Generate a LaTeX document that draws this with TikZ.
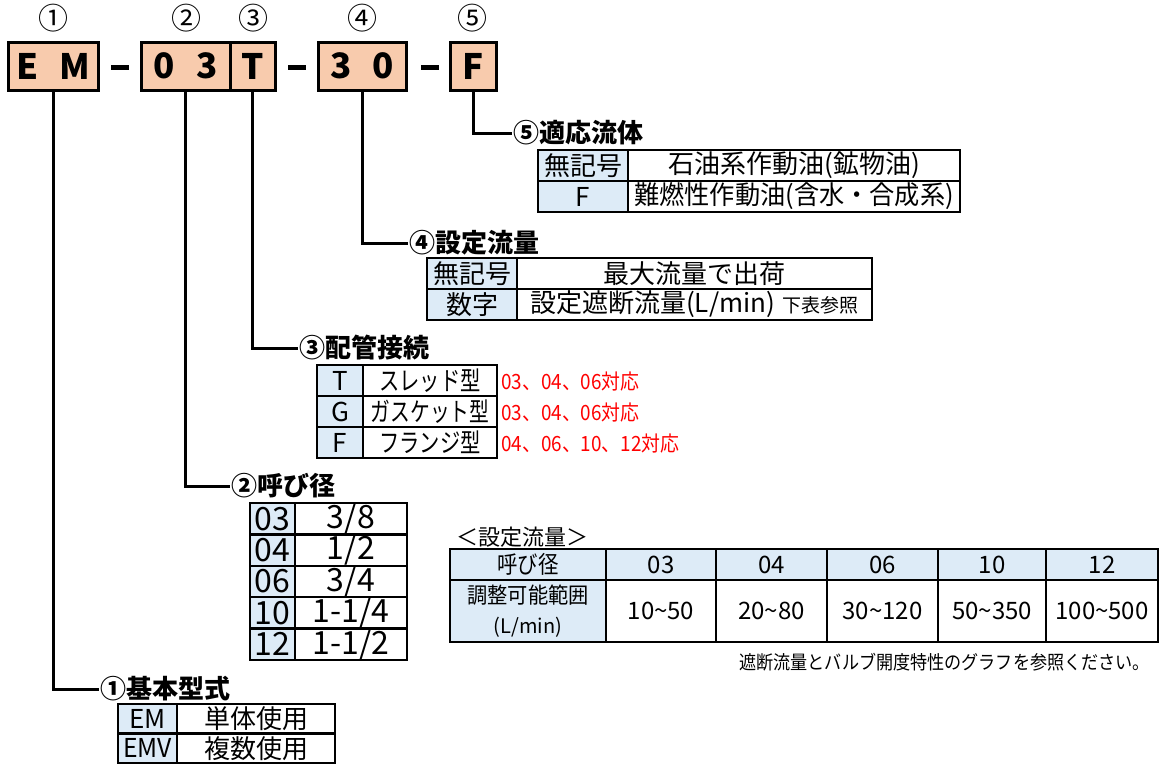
\documentclass[tikz,border=0pt]{standalone}
\usepackage{fontspec}
\usepackage{graphicx}
\setmainfont{Noto Sans CJK JP}
\definecolor{peach}{HTML}{F8CBAD}
\definecolor{lblue}{HTML}{DDEBF7}
\definecolor{redtxt}{HTML}{FF0000}
\newcommand\fs[1]{\fontsize{#1}{#1}\selectfont}
\newcommand\cx[2]{\scalebox{#1}[1]{#2}}
\begin{document}
\begin{tikzpicture}[x=1pt,y=-1pt,
  codebox/.style={draw, line width=3pt, fill=peach, inner sep=0pt, outer sep=0pt, anchor=north west, minimum height=48pt, font=\fs{35}\bfseries},
  num/.style={font=\fs{30}, inner sep=0pt},
  head/.style={font=\fs{26}\bfseries, anchor=west, inner sep=1pt},
  conn/.style={line width=3pt},
  dashline/.style={line width=5pt},
  cell/.style={draw, line width=2.5pt, inner sep=0pt, outer sep=0pt, anchor=north west},
  keycell/.style={cell, fill=lblue},
  valcell/.style={cell, fill=white},
  redlabel/.style={text=redtxt, font=\fs{21}, anchor=west, inner sep=0pt}
]
\useasboundingbox (0,0) rectangle (1165,766);

% circled numbers
\node[num] (n1) at (53,18) {①};
\node[num] (n2) at (186,18) {②};
\node[num] (n3) at (253,18) {③};
\node[num] (n4) at (362,18) {④};
\node[num] (n5) at (472,18) {⑤};

% code boxes
\node[codebox, minimum width=90pt] (bEM) at (8,42) {E\hspace{0.6em}M};
\node[codebox, minimum width=89pt] (b03) at (141,42) {0\hspace{0.6em}3};
\node[codebox, minimum width=45pt] (bT) at (230,42) {T};
\node[codebox, minimum width=88pt] (b30) at (318,42) {3\hspace{0.6em}0};
\node[codebox, minimum width=46pt] (bF) at (450,42) {F};

\draw[dashline] (111,67) -- (129,67);
\draw[dashline] (288,67) -- (306,67);
\draw[dashline] (421,67) -- (439,67);

% headings
\node[head] (h5) at (512,133) {⑤適応流体};
\node[head] (h4) at (408,243) {④設定流量};
\node[head] (h3) at (298,348) {③配管接続};
\node[head] (h2) at (230,486) {②呼び径};
\node[head] (h1) at (99,689) {①基本型式};

\draw[conn] (bF.south) |- (h5.west);
\draw[conn] (b30.south) |- (h4.west);
\draw[conn] (bT.south) |- (h3.west);
\draw[conn] (b03.south) |- (h2.west);
\draw[conn] (bEM.south) |- (h1.west);

% table 5
\begin{scope}[every node/.append style={font=\fs{26}, minimum height=31pt}]
\node[keycell, minimum width=90pt] (t5k1) at (538,150) {無記号};
\node[valcell, minimum width=332pt] (t5v1) at (628,150) {石油系作動油(鉱物油)};
\node[keycell, minimum width=90pt] (t5k2) at (538,181) {F};
\node[valcell, minimum width=332pt] (t5v2) at (628,181) {\cx{0.97}{難燃性作動油(含水・合成系)}};
\end{scope}

% table 4
\begin{scope}[every node/.append style={font=\fs{26}, minimum height=31pt}]
\node[keycell, minimum width=90pt] (t4k1) at (427,258) {無記号};
\node[valcell, minimum width=355pt] (t4v1) at (517,258) {最大流量で出荷};
\node[keycell, minimum width=90pt] (t4k2) at (427,289) {数字};
\node[valcell, minimum width=355pt] (t4v2) at (517,289) {設定遮断流量(L/min)\hspace{0.3em}{\fs{19}下表参照}};
\end{scope}

% table 3
\begin{scope}[every node/.append style={font=\fs{26}, minimum height=31pt}]
\node[keycell, minimum width=46pt] (t3k1) at (317,365) {T};
\node[valcell, minimum width=134pt] (t3v1) at (363,365) {\cx{0.78}{スレッド型}};
\node[keycell, minimum width=46pt] (t3k2) at (317,396) {G};
\node[valcell, minimum width=134pt] (t3v2) at (363,396) {\cx{0.76}{ガスケット型}};
\node[keycell, minimum width=46pt] (t3k3) at (317,427) {F};
\node[valcell, minimum width=134pt] (t3v3) at (363,427) {\cx{0.78}{フランジ型}};
\end{scope}
\node[redlabel] (r1) at (501,382) {\cx{0.9}{03、04、06対応}};
\node[redlabel] (r2) at (501,413) {\cx{0.9}{03、04、06対応}};
\node[redlabel] (r3) at (501,444) {\cx{0.9}{04、06、10、12対応}};

% table 2
\begin{scope}[every node/.append style={font=\fs{32}, minimum height=31.4pt}]
\node[keycell, minimum width=45pt] (t2k1) at (250,503) {03};
\node[valcell, minimum width=112pt] (t2v1) at (295,503) {3/8};
\node[keycell, minimum width=45pt] (t2k2) at (250,534.4) {04};
\node[valcell, minimum width=112pt] (t2v2) at (295,534.4) {1/2};
\node[keycell, minimum width=45pt] (t2k3) at (250,565.8) {06};
\node[valcell, minimum width=112pt] (t2v3) at (295,565.8) {3/4};
\node[keycell, minimum width=45pt] (t2k4) at (250,597.2) {10};
\node[valcell, minimum width=112pt] (t2v4) at (295,597.2) {1-1/4};
\node[keycell, minimum width=45pt] (t2k5) at (250,628.6) {12};
\node[valcell, minimum width=112pt] (t2v5) at (295,628.6) {1-1/2};
\end{scope}

% table 1
\begin{scope}[every node/.append style={font=\fs{26}, minimum height=29.5pt}]
\node[keycell, minimum width=59pt] (t1k1) at (118,704) {EM};
\node[valcell, minimum width=158pt] (t1v1) at (177,704) {単体使用};
\node[keycell, minimum width=59pt] (t1k2) at (118,733.5) {\cx{0.95}{EMV}};
\node[valcell, minimum width=158pt] (t1v2) at (177,733.5) {複数使用};
\end{scope}

% flow-rate table
\node[font=\fs{22}, anchor=west, inner sep=0pt] (ttl) at (456,537) {＜設定流量＞};
\begin{scope}[every node/.append style={font=\fs{24}}]
\node[keycell, minimum width=156pt, minimum height=31pt] (bt00) at (450,549) {\cx{0.85}{呼び径}};
\node[keycell, minimum width=110pt, minimum height=31pt] (bt01) at (606,549) {03};
\node[keycell, minimum width=111pt, minimum height=31pt] (bt02) at (716,549) {04};
\node[keycell, minimum width=111pt, minimum height=31pt] (bt03) at (827,549) {06};
\node[keycell, minimum width=108pt, minimum height=31pt] (bt04) at (938,549) {10};
\node[keycell, minimum width=112pt, minimum height=31pt] (bt05) at (1046,549) {12};
\node[keycell, minimum width=156pt, minimum height=62pt, align=center] (bt10) at (450,580) {{\fs{22}\cx{0.92}{調整可能範囲}}\\[6pt]{\fs{20}(L/min)}};
\node[valcell, minimum width=110pt, minimum height=62pt] (bt11) at (606,580) {10\textasciitilde 50};
\node[valcell, minimum width=111pt, minimum height=62pt] (bt12) at (716,580) {20\textasciitilde 80};
\node[valcell, minimum width=111pt, minimum height=62pt] (bt13) at (827,580) {30\textasciitilde 120};
\node[valcell, minimum width=108pt, minimum height=62pt] (bt14) at (938,580) {50\textasciitilde 350};
\node[valcell, minimum width=112pt, minimum height=62pt] (bt15) at (1046,580) {100\textasciitilde 500};
\end{scope}
\node[anchor=east, font=\fs{19}, inner sep=0pt] (note) at (1150,662) {\cx{0.9}{遮断流量とバルブ開度特性のグラフを参照ください。}};
\end{tikzpicture}
\end{document}
